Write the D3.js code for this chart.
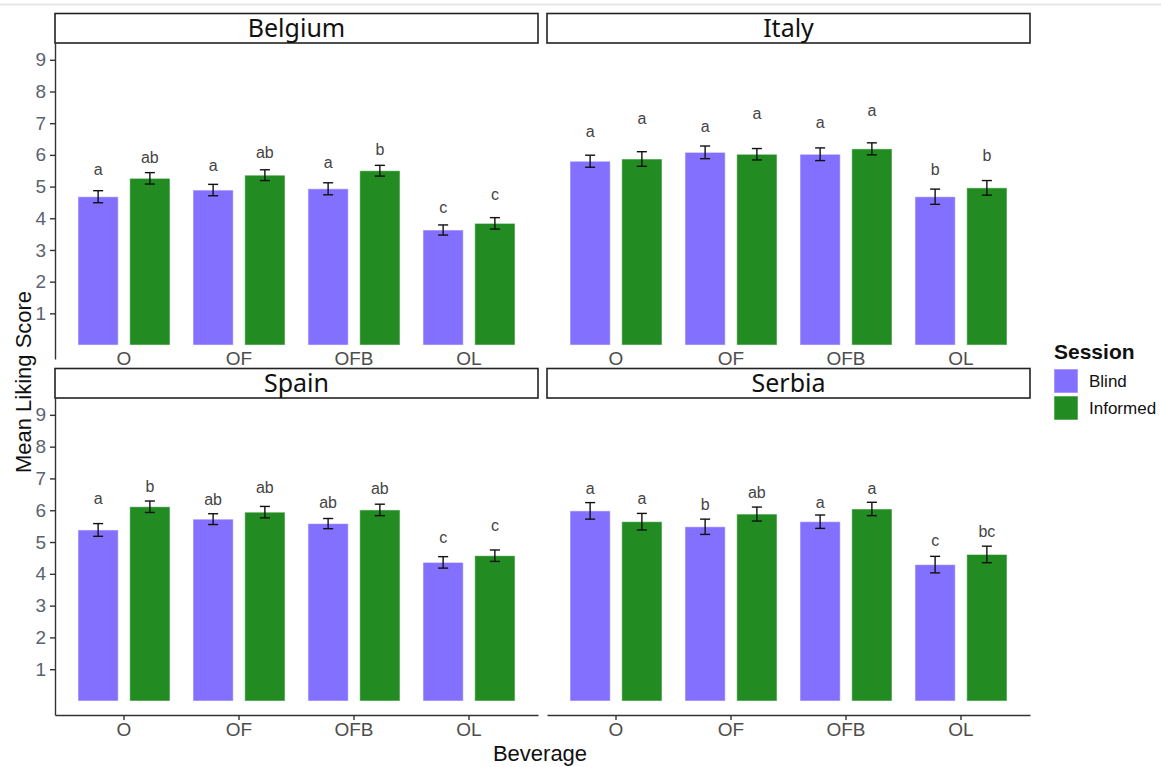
<!DOCTYPE html>
<html>
<head>
<meta charset="utf-8">
<script src="https://cdn.jsdelivr.net/npm/d3@7"></script>
<style>
  body { margin: 0; background: #fff; }
  svg { display: block; font-family: "Liberation Sans", Arial, sans-serif; }
</style>
</head>
<body>
<div id="chart"></div>
<script>
// Data (mean liking score, standard error, letter groups)
const countries = ["Belgium", "Italy", "Spain", "Serbia"];
const beverages = ["O", "OF", "OFB", "OL"];
const sessions = ["Blind", "Informed"];
const yTicks = [1, 2, 3, 4, 5, 6, 7, 8, 9];

// one row per country, in the order of `countries`
const blindMean = [
  [4.68, 4.89, 4.93, 3.63],
  [5.80, 6.08, 6.02, 4.68],
  [5.38, 5.72, 5.58, 4.36],
  [5.98, 5.48, 5.64, 4.29]
];
const informedMean = [
  [5.26, 5.36, 5.50, 3.84],
  [5.87, 6.02, 6.19, 4.96],
  [6.11, 5.94, 6.01, 4.57],
  [5.64, 5.88, 6.04, 4.61]
];
const blindSE = [
  [0.19, 0.18, 0.19, 0.16],
  [0.19, 0.20, 0.20, 0.24],
  [0.20, 0.17, 0.16, 0.18],
  [0.26, 0.24, 0.21, 0.26]
];
const informedSE = [
  [0.18, 0.17, 0.17, 0.18],
  [0.23, 0.18, 0.19, 0.23],
  [0.18, 0.18, 0.18, 0.18],
  [0.26, 0.22, 0.21, 0.26]
];
const blindLetters = [
  ["a", "a", "a", "c"],
  ["a", "a", "a", "b"],
  ["a", "ab", "ab", "c"],
  ["a", "b", "a", "c"]
];
const informedLetters = [
  ["ab", "ab", "b", "c"],
  ["a", "a", "a", "b"],
  ["b", "ab", "ab", "c"],
  ["a", "ab", "a", "bc"]
];
// height (score units) where each letter sits
const blindLetterY = [
  [5.36, 5.50, 5.59, 4.17],
  [6.57, 6.71, 6.84, 5.38],
  [6.19, 6.16, 6.08, 4.96],
  [6.52, 6.00, 6.08, 4.88]
];
const informedLetterY = [
  [5.73, 5.89, 5.99, 4.57],
  [6.99, 7.12, 7.23, 5.80],
  [6.58, 6.53, 6.50, 5.35],
  [6.19, 6.39, 6.50, 5.17]
];

const colors = d3.scaleOrdinal().domain(sessions).range(["#8470FF", "#228B22"]);

const width = 1161, height = 767;
const cols = [[55, 538], [547, 1030]];
const rows = [[43, 359], [398, 715]];
const stripH = 29.5;

const svg = d3.select("#chart").append("svg")
  .attr("width", width)
  .attr("height", height);

// faint line at the very top of the screenshot
svg.append("line")
  .attr("x1", 0).attr("x2", width)
  .attr("y1", 4.5).attr("y2", 4.5)
  .attr("stroke", "#e6e6e6").attr("stroke-width", 2);

countries.forEach((country, ci) => {
  const col = ci % 2, row = Math.floor(ci / 2);
  const [x0, x1] = cols[col];
  const [y0, y1] = rows[row];

  const x = d3.scaleBand().domain(beverages).range([x0, x1])
    .paddingInner(0).paddingOuter(0.1);
  const sub = d3.scaleBand().domain(sessions).range([0, x.bandwidth()]).padding(2 / 9);
  const y = d3.scaleLinear().domain([-0.44, 9.53]).range([y1, y0]);

  const rowsData = [];
  beverages.forEach((b, bi) => {
    rowsData.push({ bev: b, session: "Blind", mean: blindMean[ci][bi], se: blindSE[ci][bi],
      letter: blindLetters[ci][bi], ly: blindLetterY[ci][bi] });
    rowsData.push({ bev: b, session: "Informed", mean: informedMean[ci][bi], se: informedSE[ci][bi],
      letter: informedLetters[ci][bi], ly: informedLetterY[ci][bi] });
  });

  const g = svg.append("g");
  const cx = d => x(d.bev) + sub(d.session) + sub.bandwidth() / 2;
  const capW = sub.bandwidth() * 0.25;

  // bars
  g.selectAll("rect.bar").data(rowsData).enter().append("rect")
    .attr("class", "bar")
    .attr("x", d => x(d.bev) + sub(d.session))
    .attr("y", d => y(d.mean))
    .attr("width", sub.bandwidth())
    .attr("height", d => y(0) - y(d.mean))
    .attr("fill", d => colors(d.session))
    .attr("stroke", "rgba(255,255,255,0.55)")
    .attr("stroke-width", 1);

  // error bars
  const eb = g.selectAll("g.err").data(rowsData).enter().append("g")
    .attr("stroke", "#111").attr("stroke-width", 1.4);
  eb.append("line")
    .attr("x1", cx).attr("x2", cx)
    .attr("y1", d => y(d.mean - d.se)).attr("y2", d => y(d.mean + d.se));
  eb.append("line")
    .attr("x1", d => cx(d) - capW / 2).attr("x2", d => cx(d) + capW / 2)
    .attr("y1", d => y(d.mean + d.se)).attr("y2", d => y(d.mean + d.se));
  eb.append("line")
    .attr("x1", d => cx(d) - capW / 2).attr("x2", d => cx(d) + capW / 2)
    .attr("y1", d => y(d.mean - d.se)).attr("y2", d => y(d.mean - d.se));

  // letters
  g.selectAll("text.letter").data(rowsData).enter().append("text")
    .attr("x", cx)
    .attr("y", d => y(d.ly))
    .attr("text-anchor", "middle")
    .attr("font-size", 16)
    .attr("fill", "#444")
    .text(d => d.letter);

  // strip
  svg.append("rect")
    .attr("x", x0).attr("y", y0 - stripH)
    .attr("width", x1 - x0).attr("height", stripH)
    .attr("fill", "#fff").attr("stroke", "#222").attr("stroke-width", 1.6);
  svg.append("text")
    .attr("x", (x0 + x1) / 2).attr("y", y0 - stripH / 2)
    .attr("dy", "0.36em")
    .attr("text-anchor", "middle")
    .attr("font-family", "'Noto Sans', sans-serif")
    .attr("font-size", 25)
    .attr("fill", "#111")
    .text(country);

  // x axis
  if (row === 1) {
    const ax = svg.append("g").attr("transform", `translate(0,${y1})`)
      .call(d3.axisBottom(x).tickSize(5).tickSizeOuter(0).tickPadding(3));
    ax.selectAll("path, line").attr("stroke", "#333").attr("stroke-width", 1.4);
    ax.selectAll("text").attr("font-size", 19).attr("fill", "#4d4d4d")
      .attr("font-family", "'Liberation Sans', Arial, sans-serif");
  } else {
    const ax = svg.append("g").attr("transform", `translate(0,${y(0)})`)
      .call(d3.axisBottom(x).tickSize(0).tickPadding(6));
    ax.select(".domain").remove();
    ax.selectAll("line").remove();
    ax.selectAll("text").attr("font-size", 19).attr("fill", "#4d4d4d")
      .attr("font-family", "'Liberation Sans', Arial, sans-serif");
  }

  // y axis (left column only)
  if (col === 0) {
    const ay = svg.append("g").attr("transform", `translate(${x0},0)`)
      .call(d3.axisLeft(y).tickValues(yTicks).tickSize(5).tickSizeOuter(0).tickPadding(4));
    ay.selectAll("path, line").attr("stroke", "#333").attr("stroke-width", 1.4);
    ay.selectAll("text").attr("font-size", 19).attr("fill", "#5b6270")
      .attr("font-family", "'Liberation Sans', Arial, sans-serif");
  }
});

// axis titles
svg.append("text")
  .attr("transform", "translate(31,382) rotate(-90)")
  .attr("text-anchor", "middle")
  .attr("font-size", 22)
  .attr("fill", "#111")
  .text("Mean Liking Score");

svg.append("text")
  .attr("x", 540).attr("y", 761)
  .attr("text-anchor", "middle")
  .attr("font-size", 22)
  .attr("fill", "#111")
  .text("Beverage");

// legend
const legend = svg.append("g").attr("transform", "translate(1054,0)");
legend.append("text")
  .attr("x", 0).attr("y", 359)
  .attr("font-size", 21).attr("font-weight", "bold").attr("fill", "#111")
  .text("Session");
const items = legend.selectAll("g.item").data(sessions).enter().append("g")
  .attr("transform", (d, i) => `translate(0,${369 + i * 27})`);
items.append("rect")
  .attr("width", 24).attr("height", 24)
  .attr("fill", d => colors(d))
  .attr("stroke", "rgba(255,255,255,0.55)");
items.append("text")
  .attr("x", 35).attr("y", 12).attr("dy", "0.36em")
  .attr("font-size", 17).attr("fill", "#111")
  .text(d => d);
</script>
</body>
</html>
